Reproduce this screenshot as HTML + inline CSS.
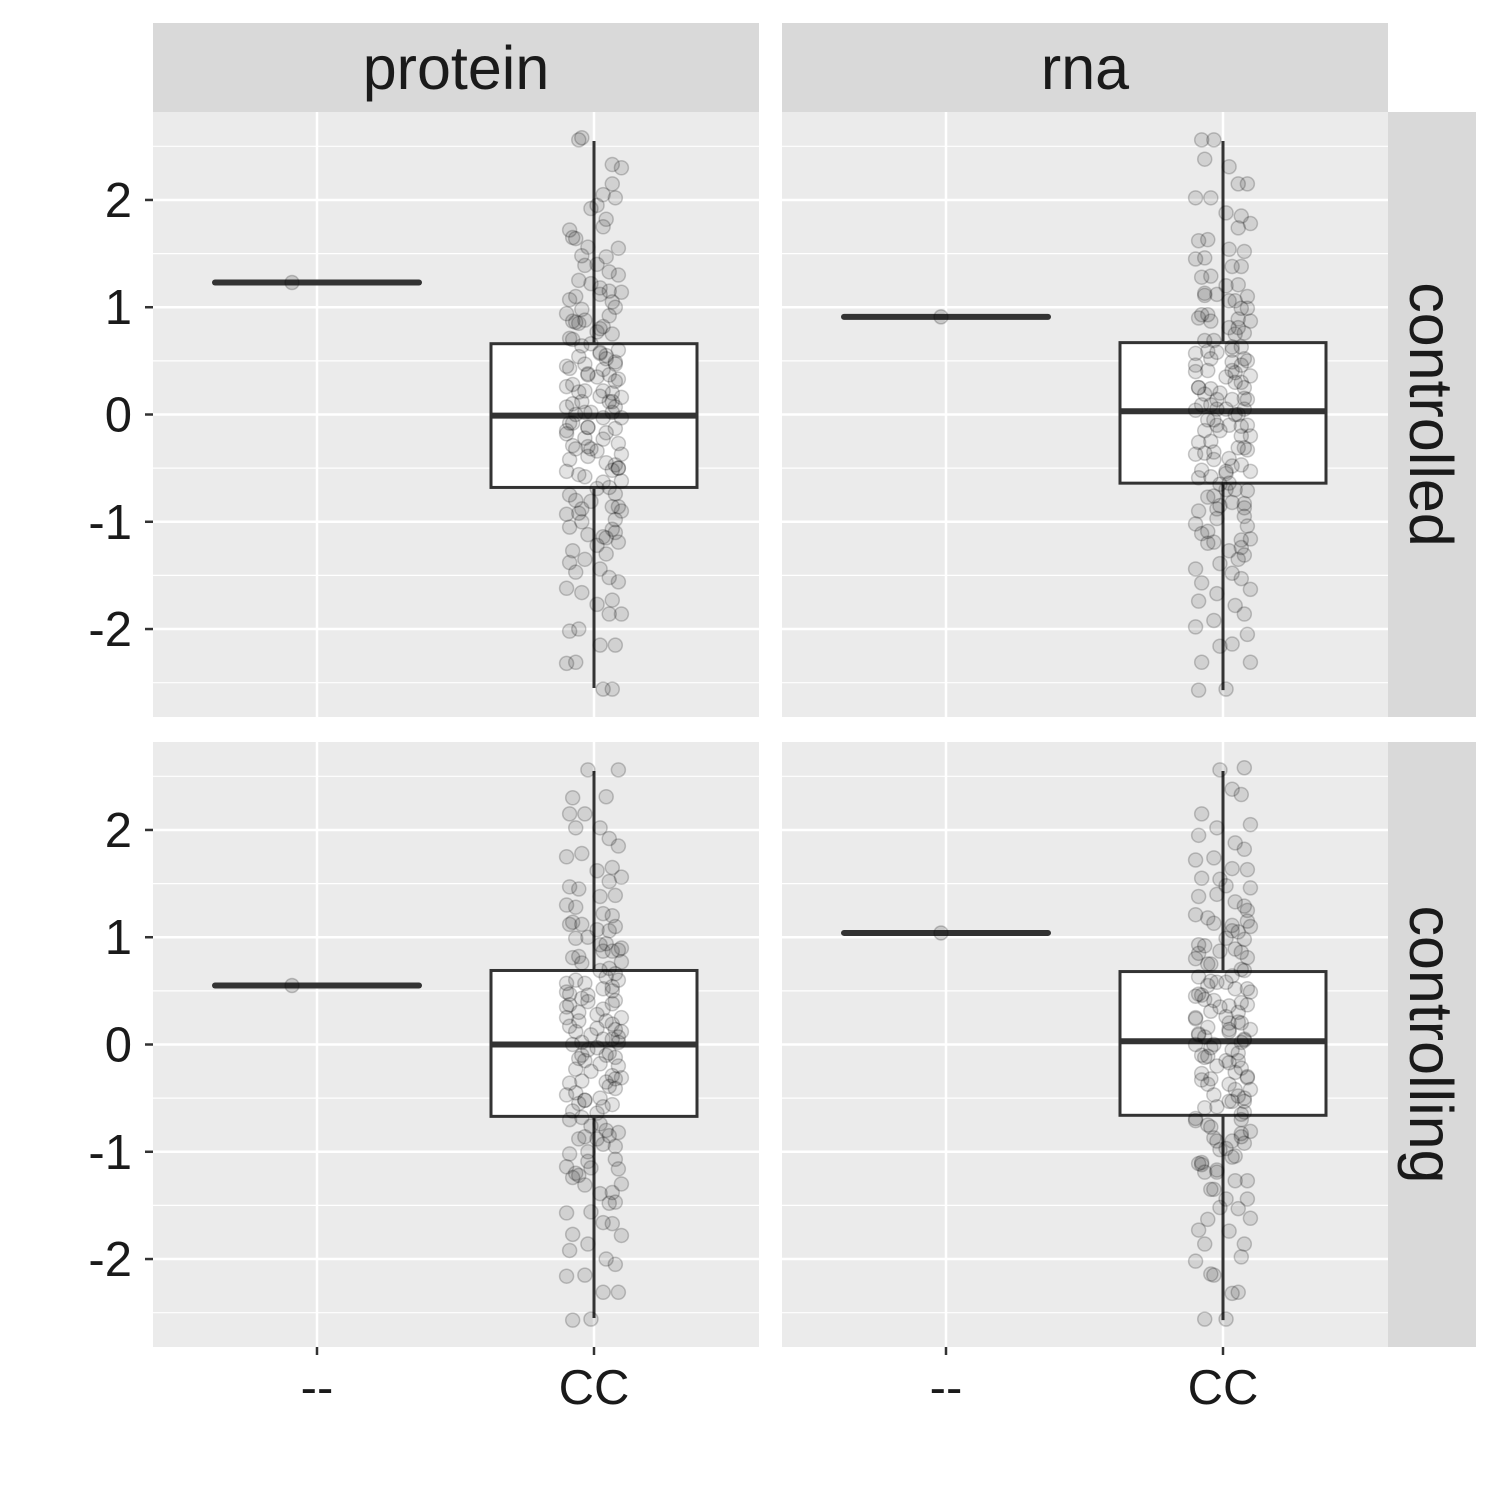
<!DOCTYPE html>
<html><head><meta charset="utf-8"><style>
html,body{margin:0;padding:0;background:#fff;}
svg{display:block;font-family:"Liberation Sans",Arial,sans-serif;}
</style></head><body>
<svg id="chart" width="1500" height="1500"></svg>
<script>
const facetsCol = ["protein","rna"];
const facetsRow = ["controlled","controlling"];
const categories = ["--","CC"];
const yTicks = [-2,-1,0,1,2];
const yTickLabels = ["-2","-1","0","1","2"];
const singleValues = [[1.23,0.91],[0.55,1.04]];
const boxStats = [
  [[-2.55,-0.68,-0.01,0.66,2.55],[-2.57,-0.64,0.03,0.67,2.55]],
  [[-2.55,-0.67,0.00,0.69,2.55],[-2.57,-0.66,0.03,0.68,2.55]]
];
const ccValuesA = [2.58,2.33,2.05,1.95,1.82,1.72,1.64,1.55,1.48,1.40,1.33,1.25,1.18,1.10,1.05,0.98,0.92,0.86,0.80,0.75,0.70,0.64,0.58,0.52,0.47,0.42,0.37,0.31,0.26,0.21,0.16,0.12,0.07,0.02,-0.03,-0.08,-0.12,-0.17,-0.22,-0.27,-0.32,-0.37,-0.42,-0.47,-0.53,-0.58,-0.63,-0.69,-0.75,-0.81,-0.86,-0.92,-0.98,-1.05,-1.12,-1.19,-1.27,-1.35,-1.44,-1.52,-1.62,-1.73,-1.86,-2.02,-2.15,-2.32,-2.56,0.10,0.35,-0.30,0.55,-0.50,0.85,-0.90,1.15,-1.10,0.00,0.20,-0.15,0.45];
const ccValuesB = [2.56,2.31,2.15,2.02,1.85,1.78,1.62,1.52,1.45,1.38,1.28,1.20,1.12,1.06,0.99,0.93,0.87,0.81,0.76,0.69,0.63,0.57,0.52,0.46,0.41,0.35,0.30,0.25,0.19,0.14,0.09,0.05,0.00,-0.05,-0.10,-0.15,-0.20,-0.25,-0.31,-0.36,-0.41,-0.47,-0.52,-0.58,-0.64,-0.70,-0.76,-0.82,-0.88,-0.95,-1.02,-1.09,-1.16,-1.24,-1.31,-1.39,-1.48,-1.57,-1.67,-1.78,-1.92,-2.05,-2.16,-2.31,-2.57,0.15,0.40,-0.35,0.60,-0.55,0.90,-0.85,1.10,-1.20,0.05,0.25,-0.10,0.50];
const ccValuesC = [2.56,2.30,2.15,2.02,1.92,1.75,1.65,1.56,1.47,1.39,1.30,1.22,1.14,1.07,1.00,0.94,0.88,0.82,0.77,0.71,0.66,0.60,0.54,0.49,0.43,0.38,0.33,0.28,0.22,0.17,0.12,0.07,0.02,-0.03,-0.08,-0.13,-0.18,-0.23,-0.29,-0.34,-0.39,-0.45,-0.50,-0.56,-0.62,-0.68,-0.74,-0.80,-0.86,-0.93,-1.00,-1.07,-1.14,-1.22,-1.30,-1.38,-1.47,-1.56,-1.66,-1.77,-1.86,-2.00,-2.15,-2.31,-2.56,0.12,0.37,-0.32,0.57,-0.52,0.87,-0.88,1.12,-1.15,0.02,0.22,-0.12,0.47];
const ccValuesD = [2.56,2.38,2.15,2.02,1.88,1.74,1.63,1.54,1.46,1.38,1.29,1.21,1.13,1.06,0.99,0.93,0.87,0.81,0.75,0.69,0.63,0.58,0.52,0.46,0.41,0.36,0.30,0.25,0.20,0.14,0.09,0.05,0.00,-0.05,-0.10,-0.15,-0.20,-0.26,-0.31,-0.37,-0.42,-0.48,-0.53,-0.59,-0.65,-0.71,-0.77,-0.83,-0.90,-0.97,-1.04,-1.11,-1.19,-1.27,-1.35,-1.44,-1.53,-1.63,-1.74,-1.86,-1.98,-2.14,-2.31,-2.56,0.14,0.39,-0.33,0.59,-0.53,0.89,-0.87,1.11,-1.17,0.04,0.24,-0.11,0.49,-0.70];
const ccValues = [[ccValuesA.concat(ccValuesC),ccValuesB.concat(ccValuesD)],[ccValuesC.concat(ccValuesB),ccValuesD.concat(ccValuesA)]];
const jitter = [-0.04,-0.08,0.07,0.06,-0.02,-0.09,0.03,0.08,-0.05,0.01,-0.07,0.09,0.04,-0.03,0.06,-0.08,0.02,0.07,-0.06,0.05,-0.01,0.08,-0.09,0.03,-0.04,0.06,-0.07,0.01,0.09,-0.02,0.05,-0.08,0.04,-0.05,0.07,-0.03,0.02,-0.09,0.08,-0.06,0.03,-0.01,0.06,-0.07,0.09,-0.04,0.01,-0.08,0.05,-0.02,0.07,-0.06,0.04,-0.09,0.02,0.08,-0.03,0.06,-0.05,0.03,-0.07,0.09,0.01,-0.04,0.05,-0.08,0.02,0.07,-0.01,0.04,-0.06,0.08,-0.03,0.06,-0.05,0.03,-0.09,0.07,-0.02];

const NS="http://www.w3.org/2000/svg";
const svg=document.getElementById('chart');
function mk(tag,attrs,parent){const e=document.createElementNS(NS,tag);for(const k in attrs)e.setAttribute(k,attrs[k]);(parent||svg).appendChild(e);return e;}

const panelX=[153,782], panelW=606;
const panelY=[112,742], panelH=605;
const yMin=-2.82, yMax=2.82;
function yScale(v,r){return panelY[r]+ (yMax-v)/(yMax-yMin)*panelH;}
const catSpacing=277;
function xScale(i,c){return panelX[c]+164+i*catSpacing;}

for(let r=0;r<2;r++){
  for(let c=0;c<2;c++){
    const g=mk('g',{});
    
    
    const bg=mk('rect',{x:panelX[c],y:panelY[r],width:panelW,height:panelH,fill:'#ebebeb'},g);
    
    
    for(let v=-2.5;v<=2.5;v+=1){
      const l=mk('line',{x1:panelX[c],x2:panelX[c]+panelW,y1:yScale(v,r),y2:yScale(v,r),stroke:'#fff','stroke-width':1.2},g);
      
      
    }
    yTicks.forEach(t=>{
      const l=mk('line',{x1:panelX[c],x2:panelX[c]+panelW,y1:yScale(t,r),y2:yScale(t,r),stroke:'#fff','stroke-width':2.5},g);
      
      
    });
    categories.forEach((cat,i)=>{
      const l=mk('line',{x1:xScale(i,c),x2:xScale(i,c),y1:panelY[r],y2:panelY[r]+panelH,stroke:'#fff','stroke-width':2.5},g);
      
      
    });
    const sv=singleValues[r][c];
    const sl=mk('line',{x1:xScale(0,c)-102,x2:xScale(0,c)+102,y1:yScale(sv,r),y2:yScale(sv,r),stroke:'#333','stroke-width':6,'stroke-linecap':'round'},g);
    
    
    const b=boxStats[r][c], cx=xScale(1,c);
    const wl=mk('line',{x1:cx,x2:cx,y1:yScale(b[4],r),y2:yScale(b[0],r),stroke:'#333','stroke-width':3},g);
    
    
    const br=mk('rect',{x:cx-103,y:yScale(b[3],r),width:206,height:yScale(b[1],r)-yScale(b[3],r),fill:'#fff',stroke:'#333','stroke-width':3},g);
    
    
    const ml=mk('line',{x1:cx-103,x2:cx+103,y1:yScale(b[2],r),y2:yScale(b[2],r),stroke:'#333','stroke-width':6},g);
    
    
    const sp=mk('circle',{cx:xScale(0,c)-25+(c?20:0),cy:yScale(sv,r),r:7,fill:'rgba(0,0,0,0.15)',stroke:'rgba(0,0,0,0.2)','stroke-width':1.5},g);
    
    
    ccValues[r][c].forEach((v,k)=>{
      const jx=jitter[(k*3+r*7+c*13+Math.floor(k/jitter.length)*5)%jitter.length]*catSpacing*1.1;
      const p=mk('circle',{cx:cx+jx,cy:yScale(v,r),r:7,fill:'rgba(0,0,0,0.11)',stroke:'rgba(0,0,0,0.2)','stroke-width':1.5},g);
      
      
    });
  }
  yTicks.forEach((t,i)=>{
    const tk=mk('line',{x1:145,x2:153,y1:yScale(t,r),y2:yScale(t,r),stroke:'#333','stroke-width':2.5});
    
    
    const tx=mk('text',{x:132,y:yScale(t,r)+17,'text-anchor':'end','font-size':49,fill:'#1a1a1a'});
    tx.textContent=yTickLabels[i];
    
    
  });
  const rs=mk('rect',{x:1388,y:panelY[r],width:88,height:panelH,fill:'#d9d9d9'});
  
  
  const cyc=panelY[r]+panelH/2;
  const rt=mk('text',{x:1410,y:cyc,'text-anchor':'middle','font-size':61,fill:'#1a1a1a',transform:'rotate(90 1410 '+cyc+')'});
  rt.textContent=facetsRow[r];
  
  
}
for(let c=0;c<2;c++){
  const cs=mk('rect',{x:panelX[c],y:23,width:panelW,height:89,fill:'#d9d9d9'});
  
  
  const ct=mk('text',{x:panelX[c]+panelW/2,y:89,'text-anchor':'middle','font-size':61,fill:'#1a1a1a'});
  ct.textContent=facetsCol[c];
  
  
  categories.forEach((cat,i)=>{
    const tk=mk('line',{x1:xScale(i,c),x2:xScale(i,c),y1:1347,y2:1355,stroke:'#333','stroke-width':2.5});
    
    
    const tx=mk('text',{x:xScale(i,c),y:1404,'text-anchor':'middle','font-size':49,fill:'#1a1a1a'});
    tx.textContent=cat;
    
    
  });
}
</script>
</body></html>
